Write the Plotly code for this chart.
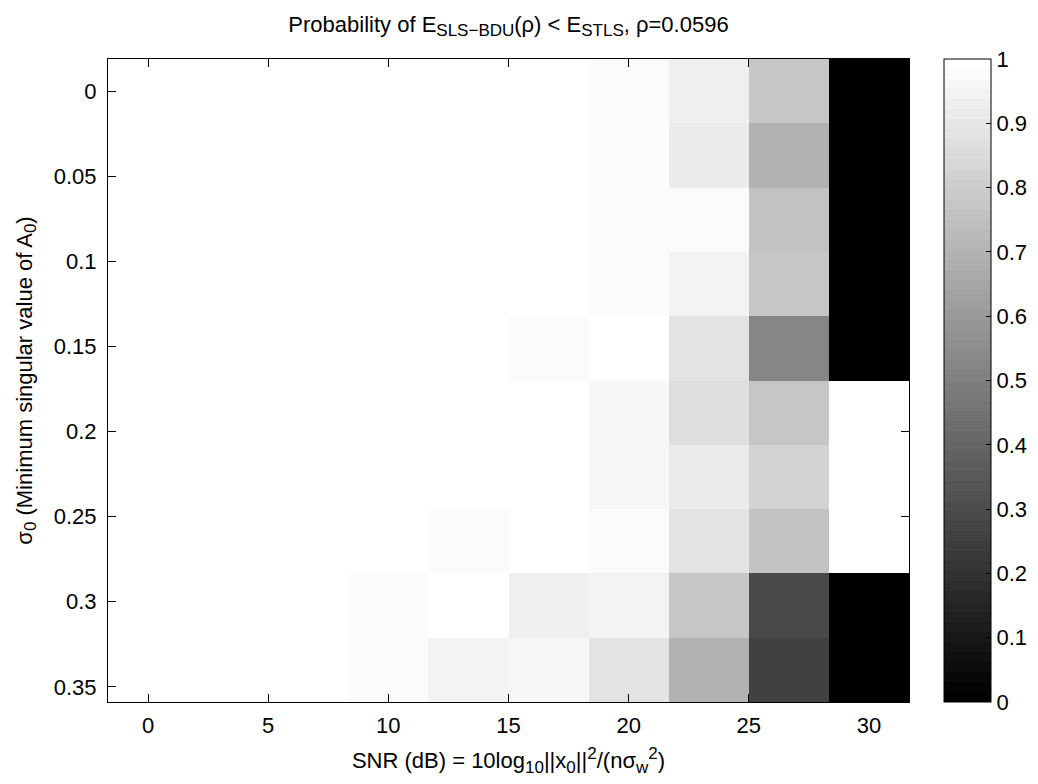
import plotly.graph_objects as go

snr_db = [0, 10/3, 20/3, 10, 40/3, 50/3, 20, 70/3, 80/3, 30]
sigma0 = [0.0, 0.0378, 0.0756, 0.1133, 0.1511, 0.1889, 0.2267, 0.2644, 0.3022, 0.34]

# rows = sigma0 values, columns = SNR values
prob = [
    [1, 1, 1, 1,     1,     1,     0.975, 0.93,  0.775, 0],
    [1, 1, 1, 1,     1,     1,     0.975, 0.91,  0.70,  0],
    [1, 1, 1, 1,     1,     1,     0.975, 0.975, 0.75,  0],
    [1, 1, 1, 1,     1,     1,     0.975, 0.945, 0.775, 0],
    [1, 1, 1, 1,     1,     0.975, 1,     0.88,  0.525, 0],
    [1, 1, 1, 1,     1,     1,     0.955, 0.865, 0.77,  1],
    [1, 1, 1, 1,     1,     1,     0.955, 0.91,  0.82,  1],
    [1, 1, 1, 1,     0.975, 1,     0.975, 0.88,  0.75,  1],
    [1, 1, 1, 0.975, 1,     0.93,  0.945, 0.77,  0.285, 0],
    [1, 1, 1, 0.975, 0.94,  0.96,  0.89,  0.69,  0.265, 0],
]

x_ticks = [0, 5, 10, 15, 20, 25, 30]
y_ticks = [0, 0.05, 0.1, 0.15, 0.2, 0.25, 0.3, 0.35]
y_tick_text = ["0", "0.05", "0.1", "0.15", "0.2", "0.25", "0.3", "0.35"]
cb_ticks = [0, 0.1, 0.2, 0.3, 0.4, 0.5, 0.6, 0.7, 0.8, 0.9, 1]
cb_tick_text = ["0", "0.1", "0.2", "0.3", "0.4", "0.5", "0.6", "0.7", "0.8", "0.9", "1"]

# 64-level gray colormap (stepped)
n = 64
colorscale = []
for i in range(n):
    g = round(i / (n - 1) * 255)
    c = f"rgb({g},{g},{g})"
    colorscale.append([i / n, c])
    colorscale.append([(i + 1) / n, c])

FONT = "Liberation Sans, Arial, Helvetica, sans-serif"
FS = 22
SUB = '<span style="font-size:17px">'
CB_X = 1.0437
ZMIN, ZMAX = 0, 1

fig = go.Figure(
    go.Heatmap(
        x=snr_db,
        y=sigma0,
        z=prob,
        zmin=ZMIN,
        zmax=ZMAX,
        colorscale=colorscale,
        colorbar=dict(
            x=CB_X,
            xanchor="left",
            xpad=0,
            y=0,
            yanchor="bottom",
            ypad=0,
            len=1,
            lenmode="fraction",
            thickness=47,
            thicknessmode="pixels",
            outlinewidth=1,
            outlinecolor="black",
            ticks="inside",
            ticklen=5,
            tickcolor="black",
            tickvals=cb_ticks,
            ticktext=cb_tick_text,
            tickfont=dict(family=FONT, size=FS, color="black"),
        ),
        hoverinfo="x+y+z",
    )
)

# tick marks on the left edge of the colorbar (MATLAB draws both sides)
for v in cb_ticks[1:-1]:
    frac = (v - ZMIN) / (ZMAX - ZMIN)
    fig.add_shape(
        type="line",
        xref="paper", yref="paper",
        xsizemode="pixel", xanchor=CB_X,
        x0=0, x1=5, y0=frac, y1=frac,
        line=dict(color="black", width=1),
    )

fig.update_layout(
    width=1038,
    height=784,
    margin=dict(l=108, r=129, t=59, b=82, autoexpand=False),
    paper_bgcolor="white",
    plot_bgcolor="white",
    font=dict(family=FONT, size=FS, color="black"),
    title=dict(
        text=("Probability of E<sub>" + SUB + "SLS\u2212BDU</span></sub>(\u03c1) &lt; E<sub>"
              + SUB + "STLS</span></sub>, \u03c1=0.0596"),
        x=0.5,
        xref="paper",
        xanchor="center",
        y=1 - 24 / 784,
        yref="container",
        yanchor="middle",
        font=dict(family=FONT, size=FS, color="black"),
    ),
)

fig.update_xaxes(
    range=[-5/3, 95/3],
    tickvals=x_ticks,
    ticks="inside",
    ticklen=8,
    tickcolor="black",
    ticklabelstandoff=4,
    showline=True,
    linecolor="black",
    linewidth=1,
    mirror="ticks",
    showgrid=False,
    zeroline=False,
    automargin=False,
    tickfont=dict(family=FONT, size=FS, color="black"),
    title=dict(
        text=("SNR (dB) = 10log<sub>" + SUB + "10</span></sub>||x<sub>" + SUB + "0</span></sub>||<sup>"
              + SUB + "2</span></sup>/(n\u03c3<sub>" + SUB + "w</span></sub><sup>" + SUB + "2</span></sup>)"),
        font=dict(family=FONT, size=FS, color="black"),
    ),
)

fig.update_yaxes(
    range=[0.3589, -0.0189],
    tickvals=y_ticks,
    ticktext=y_tick_text,
    ticks="inside",
    ticklen=8,
    tickcolor="black",
    ticklabelstandoff=6,
    showline=True,
    linecolor="black",
    linewidth=1,
    mirror="ticks",
    showgrid=False,
    zeroline=False,
    automargin=False,
    tickfont=dict(family=FONT, size=FS, color="black"),
    title=dict(
        text="\u03c3<sub>" + SUB + "0</span></sub> (Minimum singular value of A<sub>" + SUB + "0</span></sub>)",
        font=dict(family=FONT, size=FS, color="black"),
    ),
)

fig.write_html(
    "out.html",
    config={"displayModeBar": False},
    post_script="document.body.style.margin='0';document.body.style.overflow='hidden';",
)
